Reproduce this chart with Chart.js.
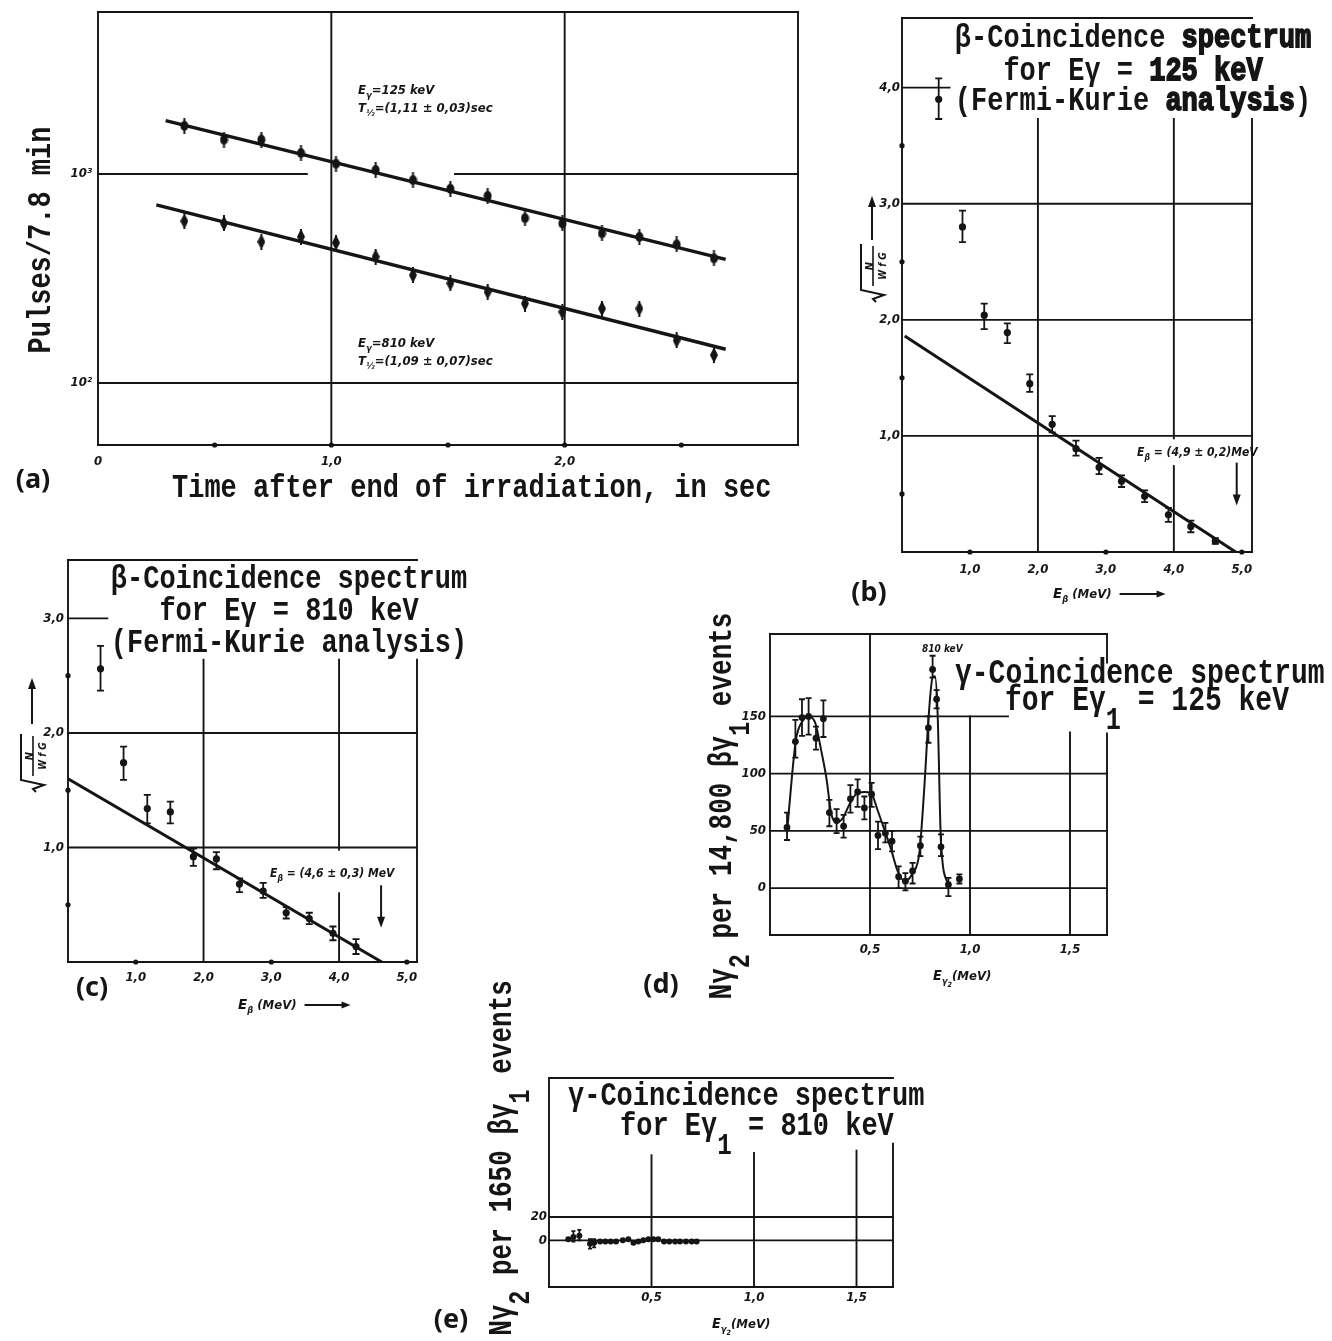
<!DOCTYPE html>
<html>
<head>
<meta charset="utf-8">
<script src="https://cdn.jsdelivr.net/npm/chart.js@4.4.1/dist/chart.umd.min.js"></script>
<style>
  html, body { margin: 0; padding: 0; background: #fff; }
  #page { position: relative; width: 1332px; height: 1341px; overflow: hidden; background: #fff; }
  #page canvas { position: absolute; left: 0; top: 0; }
</style>
</head>
<body>
<div id="page">
  <canvas id="panelA" width="1332" height="1341"></canvas>
  <canvas id="panelB" width="1332" height="1341"></canvas>
  <canvas id="panelC" width="1332" height="1341"></canvas>
  <canvas id="panelD" width="1332" height="1341"></canvas>
  <canvas id="panelE" width="1332" height="1341"></canvas>
</div>
<script>
const W = 1332, H = 1341;
const INK = '#151515';

// (a) decay of the two gamma lines
const aTime = [0.37, 0.54, 0.70, 0.87, 1.02, 1.19, 1.35, 1.51, 1.67, 1.83, 1.99, 2.16, 2.32, 2.48, 2.64];
const aPulses125 = [1700, 1460, 1460, 1260, 1120, 1045, 935, 850, 785, 615, 580, 520, 500, 460, 395];
const aPulses810 = [595, 580, 474, 501, 469, 402, 328, 300, 273, 240, 219, 227, 227, 160, 136];
const aFit125Time = [0.29, 2.69];
const aFit125 = [1800, 390];
const aFit810Time = [0.25, 2.69];
const aFit810 = [711, 145];

// (b) Fermi-Kurie plot, gate 125 keV
const bEnergy = [0.54, 0.89, 1.21, 1.55, 1.88, 2.21, 2.56, 2.90, 3.23, 3.57, 3.92, 4.25, 4.61];
const bKurie = [3.90, 2.80, 2.04, 1.89, 1.45, 1.10, 0.89, 0.73, 0.61, 0.48, 0.32, 0.22, 0.095];
const bErrLow = [3.73, 2.67, 1.92, 1.80, 1.38, 1.03, 0.83, 0.67, 0.56, 0.43, 0.26, 0.17, 0.07];
const bErrHigh = [4.08, 2.94, 2.14, 1.97, 1.53, 1.17, 0.96, 0.81, 0.66, 0.53, 0.38, 0.27, 0.12];
const bFitEnergy = [0.04, 4.91];
const bFitKurie = [1.86, 0];

// (c) Fermi-Kurie plot, gate 810 keV
const cEnergy = [0.48, 0.82, 1.17, 1.51, 1.85, 2.19, 2.53, 2.88, 3.22, 3.56, 3.91, 4.25];
const cKurie = [2.56, 1.74, 1.34, 1.31, 0.92, 0.90, 0.68, 0.62, 0.43, 0.38, 0.25, 0.135];
const cErrLow = [2.37, 1.59, 1.21, 1.21, 0.84, 0.81, 0.61, 0.56, 0.38, 0.33, 0.19, 0.07];
const cErrHigh = [2.76, 1.88, 1.46, 1.40, 0.99, 0.96, 0.73, 0.69, 0.48, 0.43, 0.31, 0.20];
const cFitEnergy = [0, 4.63];
const cFitKurie = [1.60, 0];

// (d) gamma spectrum in coincidence with 125 keV
const dEnergy = [0.085, 0.127, 0.160, 0.193, 0.230, 0.267, 0.297, 0.333, 0.368, 0.402, 0.438, 0.472, 0.508,
                 0.540, 0.577, 0.610, 0.643, 0.677, 0.713, 0.752, 0.792, 0.813, 0.833, 0.855, 0.892, 0.947];
const dCounts = [53, 128, 149, 150, 131, 148, 66, 59, 54, 78, 84, 70, 82, 46, 48, 41, 10, 6, 15, 37, 140, 191, 165, 36, 3, 8];
const dErrLow = [42, 114, 133, 134, 121, 132, 54, 48, 44, 66, 71, 60, 71, 34, 40, 32, 0, -2, 4, 28, 127, 184, 157, 28, -7, 4];
const dErrHigh = [66, 147, 165, 166, 141, 164, 77, 69, 64, 90, 95, 80, 92, 58, 57, 50, 19, 13, 22, 45, 150, 203, 173, 47, 9, 12];
const dCurveE = [0.085, 0.110, 0.130, 0.163, 0.193, 0.227, 0.255, 0.283, 0.305, 0.333, 0.363, 0.397, 0.430, 0.472, 0.505,
                 0.538, 0.572, 0.605, 0.638, 0.672, 0.713, 0.747, 0.772, 0.792, 0.813, 0.825, 0.838, 0.855, 0.892];
const dCurveN = [48, 98, 130, 146, 150, 144, 121, 95, 66, 57, 61, 73, 82, 84, 83,
                 68, 51, 34, 15, 6, 13, 31, 89, 147, 184, 185, 153, 40, 2];

// (e) gamma spectrum in coincidence with 810 keV
const eEnergy = [0.094, 0.119, 0.148, 0.200, 0.220, 0.249, 0.275, 0.301, 0.327, 0.360, 0.387, 0.412,
                 0.436, 0.460, 0.485, 0.509, 0.533, 0.561, 0.587, 0.615, 0.639, 0.668, 0.696, 0.720];
const eCounts = [1, 3, 4, -3, -2, -1, -1, -1, -1, 0, 1, -2, -1, 0, 1, 1, 1, -1, -1, -1, -1, -1, -1, -1];
const eErrLow = [null, -1, 0, -7, -6, null, null, null, null, null, null, null, null, null, null, null, null, null, null, null, null, null, null, null];
const eErrHigh = [null, 8, 9, 1, 1, null, null, null, null, null, null, null, null, null, null, null, null, null, null, null, null, null, null, null];

const pts = (xs, ys) => xs.map((x, i) => ({ x, y: ys[i] }));

const FONTS = {
  mono: s => `bold ${s}px "Liberation Mono", "DejaVu Sans Mono", monospace`,
  note: s => `bold italic ${s}px "Liberation Sans Narrow", "DejaVu Sans Condensed", "Liberation Sans", sans-serif`,
  letter: s => `bold ${s}px "Noto Sans", "DejaVu Sans", sans-serif`
};

function drawRuns(ctx, t) {
  const size = t.size, fontOf = FONTS[t.face || 'note'];
  ctx.save();
  ctx.translate(t.x, t.y);
  if (t.angle) ctx.rotate(t.angle);
  ctx.scale(1, t.stretch || 1);
  ctx.textBaseline = t.baseline || 'alphabetic';
  ctx.textAlign = 'left';
  ctx.fillStyle = INK; ctx.strokeStyle = INK;
  const parts = t.runs.map(r => {
    const s = size * (r.scale ?? (r.sub ? (t.subScale || 0.72) : 1));
    ctx.font = fontOf(s);
    return { r, s, w: ctx.measureText(r.t).width };
  });
  const total = parts.reduce((a, p) => a + p.w, 0);
  let cx = t.align === 'center' ? -total / 2 : t.align === 'right' ? -total : 0;
  parts.forEach(p => {
    ctx.font = fontOf(p.s);
    const dy = size * (p.r.dy ?? (p.r.sub ? (t.subDrop || 0.3) : 0));
    ctx.fillText(p.r.t, cx, dy);
    if (p.r.heavy) { ctx.lineWidth = 1.4; ctx.strokeText(p.r.t, cx, dy); }
    cx += p.w;
  });
  ctx.restore();
  if (t.tailArrow) {
    const [gap, len, dy] = t.tailArrow;
    const x0 = t.x + total + gap;
    arrow(ctx, x0, t.y + dy, x0 + len, t.y + dy, 9, 3.5);
  }
}

function arrow(ctx, x0, y0, x1, y1, head = 11, half = 4) {
  const a = Math.atan2(y1 - y0, x1 - x0);
  ctx.save();
  ctx.strokeStyle = INK; ctx.fillStyle = INK; ctx.lineWidth = 2;
  ctx.beginPath(); ctx.moveTo(x0, y0);
  ctx.lineTo(x1 - Math.cos(a) * head * 0.6, y1 - Math.sin(a) * head * 0.6); ctx.stroke();
  ctx.translate(x1, y1); ctx.rotate(a);
  ctx.beginPath(); ctx.moveTo(0, 0); ctx.lineTo(-head, -half); ctx.lineTo(-head, half); ctx.closePath(); ctx.fill();
  ctx.restore();
}

// sqrt(N / W f G), written upward along the axis
function drawKurie(ctx, cx, cy) {
  ctx.save();
  ctx.translate(cx, cy); ctx.rotate(-Math.PI / 2);
  ctx.strokeStyle = INK; ctx.fillStyle = INK;
  ctx.lineWidth = 2;
  ctx.beginPath();
  ctx.moveTo(-29, 3); ctx.lineTo(-26, 0); ctx.lineTo(-22, 11); ctx.lineTo(-17, -12); ctx.lineTo(29, -12);
  ctx.stroke();
  ctx.lineWidth = 1.6;
  ctx.beginPath(); ctx.moveTo(-13, 0); ctx.lineTo(27, 0); ctx.stroke();
  ctx.textAlign = 'center';
  ctx.font = FONTS.note(11); ctx.fillText('N', 7, -3);
  ctx.font = FONTS.note(10); ctx.fillText('W f G', 7, 10);
  ctx.restore();
}

function markerCanvas(w, h, shape) {
  const c = document.createElement('canvas');
  c.width = w; c.height = h;
  const g = c.getContext('2d');
  g.fillStyle = INK; g.strokeStyle = INK;
  g.beginPath();
  if (shape === 'diamond') {
    g.moveTo(w / 2, 0); g.lineTo(w, h / 2); g.lineTo(w / 2, h); g.lineTo(0, h / 2); g.closePath();
  } else {
    g.ellipse(w / 2, h / 2, w / 2 - 0.5, 5, 0, 0, Math.PI * 2);
  }
  g.fill();
  g.lineWidth = 2;
  g.beginPath(); g.moveTo(w / 2, 0); g.lineTo(w / 2, h); g.stroke();
  return c;
}

function framePlugin(name, spec) {
  return {
    id: 'frame' + name,
    beforeDatasetsDraw(chart) {
      const { ctx, scales: { x, y } } = chart;
      ctx.save();
      ctx.strokeStyle = INK; ctx.lineCap = 'square';
      (spec.hLines || []).forEach(([v, x0, x1, lw]) => {
        ctx.lineWidth = lw || 1.9;
        const py = y.getPixelForValue(v);
        ctx.beginPath();
        ctx.moveTo(x.getPixelForValue(x0 ?? x.min), py);
        ctx.lineTo(x.getPixelForValue(x1 ?? x.max), py);
        ctx.stroke();
      });
      (spec.vLines || []).forEach(([v, y0, y1, lw]) => {
        ctx.lineWidth = lw || 1.9;
        const px = x.getPixelForValue(v);
        ctx.beginPath();
        ctx.moveTo(px, y.getPixelForValue(y0 ?? y.min));
        ctx.lineTo(px, y.getPixelForValue(y1 ?? y.max));
        ctx.stroke();
      });
      ctx.restore();
    },
    afterDatasetsDraw(chart) {
      const { ctx, chartArea, scales: { x, y } } = chart;
      ctx.save();
      ctx.fillStyle = INK; ctx.strokeStyle = INK;
      (spec.errorBars || []).forEach(e => {
        ctx.lineWidth = 1.8;
        e.xs.forEach((xv, i) => {
          if (e.lo[i] == null) return;
          const px = x.getPixelForValue(xv);
          const p0 = y.getPixelForValue(e.lo[i]), p1 = y.getPixelForValue(e.hi[i]);
          ctx.beginPath();
          ctx.moveTo(px, p0); ctx.lineTo(px, p1);
          ctx.moveTo(px - e.cap, p0); ctx.lineTo(px + e.cap, p0);
          ctx.moveTo(px - e.cap, p1); ctx.lineTo(px + e.cap, p1);
          ctx.stroke();
        });
      });
      const dot = (px, py) => { ctx.beginPath(); ctx.arc(px, py, 2.6, 0, Math.PI * 2); ctx.fill(); };
      (spec.xDots || []).forEach(v => dot(x.getPixelForValue(v), chartArea.bottom));
      (spec.yDots || []).forEach(v => dot(chartArea.left, y.getPixelForValue(v)));
      ctx.font = FONTS.note(13);
      ctx.textBaseline = 'middle';
      if (spec.xTicks) {
        ctx.textAlign = 'center';
        spec.xTicks.values.forEach((v, i) => ctx.fillText(spec.xTicks.labels[i], x.getPixelForValue(v), spec.xTicks.at));
      }
      if (spec.yTicks) {
        ctx.textAlign = 'right';
        spec.yTicks.values.forEach((v, i) => ctx.fillText(spec.yTicks.labels[i], spec.yTicks.at, y.getPixelForValue(v)));
      }
      (spec.dataArrows || []).forEach(([xv, y0, y1]) =>
        arrow(ctx, x.getPixelForValue(xv), y.getPixelForValue(y0), x.getPixelForValue(xv), y.getPixelForValue(y1)));
      (spec.arrows || []).forEach(a => arrow(ctx, ...a));
      (spec.texts || []).forEach(t => drawRuns(ctx, t));
      if (spec.kurie) drawKurie(ctx, ...spec.kurie);
      ctx.restore();
    }
  };
}

function buildPanel(id, box, scales, datasets, spec) {
  return new Chart(document.getElementById(id), {
    type: 'scatter',
    data: { datasets },
    options: {
      responsive: false,
      animation: false,
      events: [],
      layout: { padding: { left: box.left, top: box.top, right: W - box.right, bottom: H - box.bottom } },
      plugins: { legend: { display: false }, tooltip: { enabled: false } },
      scales: {
        x: Object.assign({ type: 'linear', display: false }, scales.x),
        y: Object.assign({ type: 'linear', display: false }, scales.y)
      }
    },
    plugins: [framePlugin(id, spec)]
  });
}

const dots = (xs, ys, r) => ({ data: pts(xs, ys), pointRadius: r, pointBackgroundColor: INK, pointBorderWidth: 0 });
const fit = (xs, ys, w) => ({ data: pts(xs, ys), showLine: true, borderColor: INK, borderWidth: w, pointRadius: 0 });
const mono = (runs, x, y, align, size, extra) =>
  Object.assign({ runs, x, y, align, size: size || 27, face: 'mono', stretch: 1.25, subScale: 0.9, subDrop: 0.55 }, extra || {});
const letter = (txt, x, y) => ({ runs: [{ t: txt }], x, y, align: 'center', size: 27, face: 'letter', baseline: 'middle' });
const UP = -Math.PI / 2;

// (a)
buildPanel('panelA', { left: 98, top: 12, right: 798, bottom: 445 },
  { x: { min: 0, max: 3 }, y: { type: 'logarithmic', min: 50.5, max: 5960 } },
  [
    Object.assign(dots(aTime, aPulses125, 5), { pointStyle: markerCanvas(9, 16, 'blob') }),
    Object.assign(dots(aTime, aPulses810, 5), { pointStyle: markerCanvas(8, 16, 'diamond') }),
    fit(aFit125Time, aFit125, 3.4),
    fit(aFit810Time, aFit810, 3.4)
  ],
  {
    hLines: [[5960], [50.5], [1000, 0, 0.895], [1000, 1.53, 3], [100]],
    vLines: [[0], [3], [1], [2]],
    xDots: [0.5, 1, 1.5, 2, 2.5],
    xTicks: { values: [0, 1, 2], labels: ['0', '1,0', '2,0'], at: 462 },
    yTicks: { values: [1000, 100], labels: ['10³', '10²'], at: 92 },
    texts: [
      { runs: [{ t: 'E' }, { t: 'γ', sub: true }, { t: '=125 keV' }], x: 358, y: 94, size: 13 },
      { runs: [{ t: 'T' }, { t: '½', sub: true }, { t: '=(1,11 ± 0,03)sec' }], x: 358, y: 112, size: 13 },
      { runs: [{ t: 'E' }, { t: 'γ', sub: true }, { t: '=810 keV' }], x: 358, y: 347, size: 13 },
      { runs: [{ t: 'T' }, { t: '½', sub: true }, { t: '=(1,09 ± 0,07)sec' }], x: 358, y: 365, size: 13 },
      mono([{ t: 'Time after end of irradiation, in sec' }], 172, 497, 'left'),
      mono([{ t: 'Pulses/7.8 min' }], 50, 240, 'center', 27, { angle: UP }),
      letter('(a)', 33, 480)
    ]
  });

// (b)
buildPanel('panelB', { left: 902, top: 18, right: 1252, bottom: 552 },
  { x: { min: 0, max: 5.15 }, y: { min: 0, max: 4.6 } },
  [dots(bEnergy, bKurie, 3.6), fit(bFitEnergy, bFitKurie, 3)],
  {
    hLines: [[0], [4.6], [1], [2], [3], [4, 0, 0.7]],
    vLines: [[0], [5.15, 0, 3.73], [2, 0, 3.73], [4, 0, 0.74], [4, 0.98, 3.73]],
    xDots: [1, 3, 5], yDots: [0.5, 1.5, 2.5, 3.5],
    xTicks: { values: [1, 2, 3, 4, 5], labels: ['1,0', '2,0', '3,0', '4,0', '5,0'], at: 570 },
    yTicks: { values: [1, 2, 3, 4], labels: ['1,0', '2,0', '3,0', '4,0'], at: 900 },
    errorBars: [{ xs: bEnergy, lo: bErrLow, hi: bErrHigh, cap: 3.5 }],
    dataArrows: [[4.925, 0.77, 0.40]],
    arrows: [[872, 240, 872, 196]],
    kurie: [873, 273],
    texts: [
      mono([{ t: 'β-Coincidence ' }, { t: 'spectrum', heavy: true }], 1133, 47, 'center'),
      mono([{ t: 'for Eγ = ' }, { t: '125 keV', heavy: true }], 1133, 80, 'center'),
      mono([{ t: '(Fermi-Kurie ' }, { t: 'analysis', heavy: true }, { t: ')' }], 1133, 110, 'center'),
      { runs: [{ t: 'E' }, { t: 'β', sub: true }, { t: ' = (4,9 ± 0,2)MeV' }], x: 1137, y: 456, size: 12 },
      { runs: [{ t: 'E', scale: 1.15 }, { t: 'β', sub: true }, { t: ' (MeV)' }], x: 1053, y: 598, size: 13, tailArrow: [8, 46, -4] },
      letter('(b)', 869, 593)
    ]
  });

// (c)
buildPanel('panelC', { left: 68, top: 560, right: 417, bottom: 962 },
  { x: { min: 0, max: 5.15 }, y: { min: 0, max: 3.51 } },
  [dots(cEnergy, cKurie, 3.6), fit(cFitEnergy, cFitKurie, 3)],
  {
    hLines: [[0], [3.51], [1], [2], [3, 0, 0.58]],
    vLines: [[0], [5.15, 0, 2.64], [2, 0, 2.64], [4, 0, 0.6], [4, 0.98, 2.64]],
    xDots: [1, 3, 5], yDots: [0.5, 1.5, 2.5],
    xTicks: { values: [1, 2, 3, 4, 5], labels: ['1,0', '2,0', '3,0', '4,0', '5,0'], at: 978 },
    yTicks: { values: [1, 2, 3], labels: ['1,0', '2,0', '3,0'], at: 64 },
    errorBars: [{ xs: cEnergy, lo: cErrLow, hi: cErrHigh, cap: 3.5 }],
    dataArrows: [[4.62, 0.67, 0.30]],
    arrows: [[32, 724, 32, 678]],
    kurie: [33, 763],
    texts: [
      mono([{ t: 'β-Coincidence spectrum' }], 289, 588, 'center'),
      mono([{ t: 'for Eγ = 810 keV' }], 289, 620, 'center'),
      mono([{ t: '(Fermi-Kurie analysis)' }], 289, 652, 'center'),
      { runs: [{ t: 'E' }, { t: 'β', sub: true }, { t: ' = (4,6 ± 0,3) MeV' }], x: 270, y: 877, size: 12 },
      { runs: [{ t: 'E', scale: 1.15 }, { t: 'β', sub: true }, { t: ' (MeV)' }], x: 238, y: 1009, size: 13, tailArrow: [8, 46, -4] },
      letter('(c)', 92, 988)
    ]
  });

// (d)
buildPanel('panelD', { left: 770, top: 634, right: 1107, bottom: 935 },
  { x: { min: 0, max: 1.685 }, y: { min: -41, max: 222 } },
  [
    dots(dEnergy, dCounts, 3.4),
    Object.assign(fit(dCurveE, dCurveN, 2), { cubicInterpolationMode: 'monotone' })
  ],
  {
    hLines: [[-41], [222], [0], [50], [100], [150, 0, 1.19]],
    vLines: [[0], [1.685, -41, 135], [1.685, 197, 222], [0.5], [1, -41, 150], [1.5, -41, 136]],
    xTicks: { values: [0.5, 1, 1.5], labels: ['0,5', '1,0', '1,5'], at: 950 },
    yTicks: { values: [0, 50, 100, 150], labels: ['0', '50', '100', '150'], at: 766 },
    errorBars: [{ xs: dEnergy, lo: dErrLow, hi: dErrHigh, cap: 3 }],
    texts: [
      { runs: [{ t: '810 keV' }], x: 922, y: 652, size: 10 },
      mono([{ t: 'γ-Coincidence spectrum' }], 955, 683, 'left', 28),
      mono([{ t: 'for Eγ' }, { t: '1', sub: true }, { t: ' = 125 keV' }], 1005, 710, 'left', 28),
      mono([{ t: 'Nγ' }, { t: '2', sub: true }, { t: ' per 14,800 βγ' }, { t: '1', sub: true }, { t: ' events' }], 731, 806, 'center', 26, { angle: UP }),
      { runs: [{ t: 'E', scale: 1.1 }, { t: 'γ', sub: true }, { t: '2', scale: 0.55, dy: 0.55 }, { t: '(MeV)' }], x: 933, y: 980, size: 13 },
      letter('(d)', 661, 985)
    ]
  });

// (e)
buildPanel('panelE', { left: 549, top: 1078, right: 893, bottom: 1287 },
  { x: { min: 0, max: 1.678 }, y: { min: -40, max: 139.3 } },
  [dots(eEnergy, eCounts, 3)],
  {
    hLines: [[-40], [139.3], [0], [20]],
    vLines: [[0], [1.678, -40, 83], [0.5, -40, 73], [1, -40, 75], [1.5, -40, 77]],
    xTicks: { values: [0.5, 1, 1.5], labels: ['0,5', '1,0', '1,5'], at: 1298 },
    yTicks: { values: [0, 20], labels: ['0', '20'], at: 547 },
    errorBars: [{ xs: eEnergy, lo: eErrLow, hi: eErrHigh, cap: 2 }],
    texts: [
      mono([{ t: 'γ-Coincidence spectrum' }], 568, 1105, 'left', 27),
      mono([{ t: 'for Eγ' }, { t: '1', sub: true }, { t: ' = 810 keV' }], 620, 1135, 'left', 27),
      mono([{ t: 'Nγ' }, { t: '2', sub: true }, { t: ' per 1650 βγ' }, { t: '1', sub: true }, { t: ' events' }], 511, 1158, 'center', 26, { angle: UP }),
      { runs: [{ t: 'E', scale: 1.1 }, { t: 'γ', sub: true }, { t: '2', scale: 0.55, dy: 0.55 }, { t: '(MeV)' }], x: 712, y: 1328, size: 13 },
      letter('(e)', 451, 1320)
    ]
  });
</script>
</body>
</html>
